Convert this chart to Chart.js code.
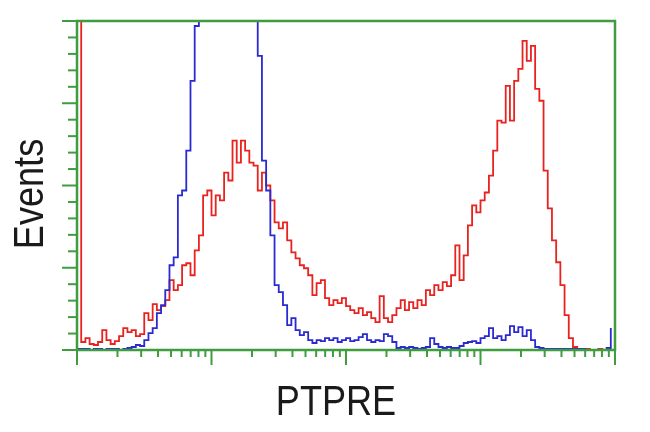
<!DOCTYPE html>
<html lang="en">
<head>
  <meta charset="UTF-8">
  <title>PTPRE histogram</title>
  <style>
    body { margin: 0; background: #fff; }
    .card { width: 650px; height: 432px; position: relative; }
  </style>
</head>
<body>
  <div class="card">
    <canvas id="histChart"></canvas>
  </div>
<script src="https://cdn.jsdelivr.net/npm/chart.js"></script>
<script>
  // channel bins: 128 bins of 8 channels on a 1024-channel (4 decade) log axis
  const binSize = 8;
  const channelMax = 1024;
  const decades = [1, 10, 100, 1000, 10000];
  const yMax = 330;

  // PTPRE stained (red)
  const redCounts = [
    400, 8, 12, 6, 5, 8, 20, 10, 6, 9, 14, 22, 18, 20, 14, 16,
    37, 30, 46, 40, 44, 50, 70, 60, 65, 85, 87, 75, 100, 115, 155, 160,
    135, 155, 150, 178, 170, 210, 188, 210, 200, 188, 185, 160, 178, 165, 150, 128,
    122, 128, 110, 98, 92, 85, 82, 75, 55, 67, 70, 52, 45, 50, 47, 52,
    44, 40, 37, 42, 35, 38, 32, 28, 54, 32, 28, 35, 42, 50, 40, 48,
    42, 50, 45, 60, 55, 65, 60, 68, 64, 75, 105, 70, 95, 125, 145, 138,
    150, 158, 175, 200, 230, 228, 265, 230, 270, 282, 310, 290, 305, 262, 250, 180,
    142, 110, 88, 65, 35, 12, 3, 0, 0, 1, 0, 0, 1, 0, 0, 0
  ];

  // control (blue)
  const blueCounts = [
    1, 1, 1, 0, 1, 1, 0, 1, 1, 1, 0, 1, 2, 3, 5, 4,
    10, 17, 22, 37, 45, 60, 85, 93, 155, 160, 200, 270, 325, 400, 450, 480,
    500, 510, 520, 515, 505, 495, 480, 460, 440, 410, 380, 295, 190, 160, 115, 65,
    58, 45, 25, 32, 20, 15, 18, 10, 7, 10, 9, 12, 10, 12, 8, 10,
    12, 9, 10, 13, 16, 10, 8, 10, 9, 16, 14, 8, 2, 3, 2, 3,
    2, 1, 2, 3, 12, 6, 3, 2, 3, 2, 2, 4, 7, 8, 9, 7,
    12, 14, 22, 12, 14, 10, 15, 24, 18, 23, 14, 20, 10, 3, 2, 1,
    1, 1, 1, 1, 1, 1, 1, 1, 1, 0, 0, 0, 0, 0, 2, 22
  ];

  const axisGreen = '#3f9c3f';

  const toPoints = counts => counts.map((c, i) => ({ x: i * binSize, y: c }));

  const frameTicks = {
    id: 'frameTicks',
    afterDatasetsDraw(chart) {
      const { ctx, chartArea: a, scales: { x, y } } = chart;
      ctx.save();
      ctx.strokeStyle = axisGreen;
      ctx.lineWidth = 2.5;
      ctx.strokeRect(a.left, a.top, a.right - a.left, a.bottom - a.top);

      // y ticks: 4 major divisions, 5 minor each
      ctx.lineWidth = 2;
      for (let k = 0; k <= 20; k++) {
        const py = y.getPixelForValue(k * yMax / 20);
        const len = k % 5 === 0 ? 15 : 9;
        ctx.beginPath();
        ctx.moveTo(a.left - len, py);
        ctx.lineTo(a.left, py);
        ctx.stroke();
      }

      // x ticks: log decades with 2..9 minors
      for (let d = 0; d < decades.length; d++) {
        const steps = d < decades.length - 1 ? 9 : 1;
        for (let k = 1; k <= steps; k++) {
          const ch = channelMax / (decades.length - 1) * (d + Math.log10(k));
          const px = x.getPixelForValue(ch);
          const len = k === 1 ? 15 : 7;
          ctx.beginPath();
          ctx.moveTo(px, a.bottom);
          ctx.lineTo(px, a.bottom + len);
          ctx.stroke();
        }
      }

      // axis titles
      ctx.fillStyle = '#1a1a1a';
      ctx.font = '43px Arial, "Liberation Sans", sans-serif';
      ctx.textAlign = 'center';
      ctx.textBaseline = 'alphabetic';

      ctx.save();
      ctx.translate(336, 415);
      ctx.scale(0.84, 1);
      ctx.fillText('PTPRE', 0, 0);
      ctx.restore();

      ctx.save();
      ctx.translate(43, 194);
      ctx.rotate(-Math.PI / 2);
      ctx.scale(0.84, 1);
      ctx.fillText('Events', 0, 0);
      ctx.restore();

      ctx.restore();
    }
  };

  new Chart(document.getElementById('histChart'), {
    type: 'line',
    data: {
      datasets: [{
        label: 'Control',
        data: toPoints(blueCounts),
        borderColor: '#2a2ad2',
        borderWidth: 1.8,
        pointRadius: 0,
        stepped: true,
        fill: false
      }, {
        label: 'PTPRE',
        data: toPoints(redCounts),
        borderColor: '#e8231f',
        borderWidth: 1.8,
        pointRadius: 0,
        stepped: true,
        fill: false
      }]
    },
    options: {
      responsive: true,
      maintainAspectRatio: false,
      animation: false,
      layout: { padding: { left: 77, top: 21, right: 35, bottom: 82 } },
      plugins: { legend: { display: false }, tooltip: { enabled: false } },
      scales: {
        x: { type: 'linear', min: 0, max: channelMax, display: false },
        y: { type: 'linear', min: 0, max: yMax, display: false }
      }
    },
    plugins: [frameTicks]
  });
</script>
</body>
</html>
